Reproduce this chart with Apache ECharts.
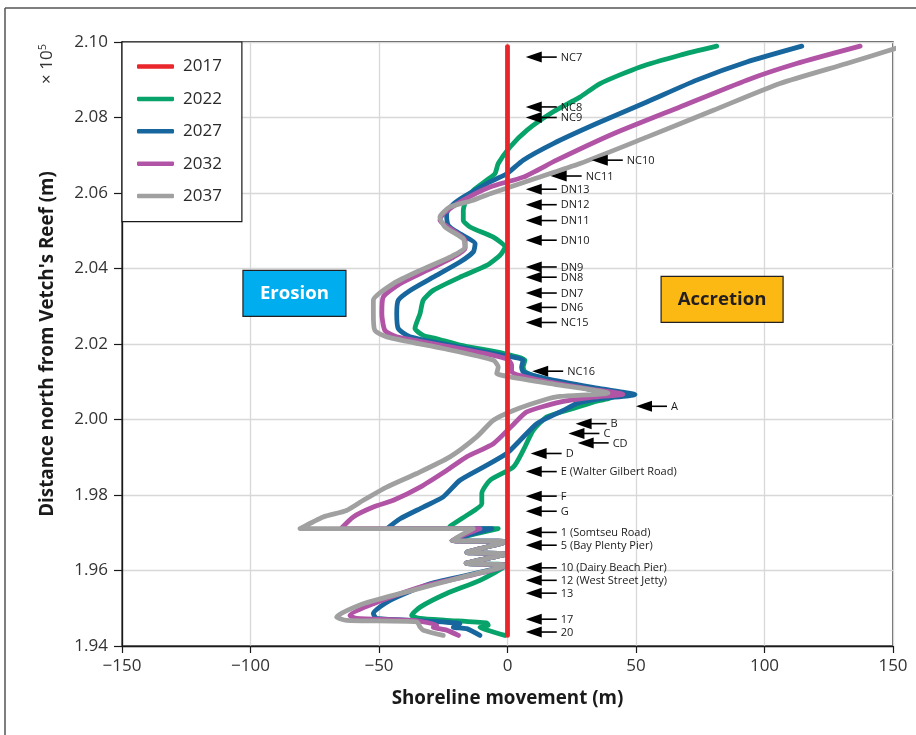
<!DOCTYPE html>
<html>
<head>
<meta charset="utf-8">
<script src="https://cdn.jsdelivr.net/npm/echarts@6/dist/echarts.min.js"></script>
<style>
html,body{margin:0;padding:0;background:#fff;}
#chart{width:916px;height:735px;}
</style>
</head>
<body>
<div id="chart"></div>
<script>
// ---- data (x: shoreline movement m, y: distance north ×10^5 m) ----
const years = ['2017', '2022', '2027', '2032', '2037'];
const xTicks = [-150, -100, -50, 0, 50, 100, 150];
const yTicks = [1.94, 1.96, 1.98, 2.00, 2.02, 2.04, 2.06, 2.08, 2.10];

const s2017 = [[0, 2.0988], [0, 1.9428]];

const s2022 = [
[81.4,2.0989],[67.1,2.0965],[51.6,2.0934],[36.0,2.0890],[28.2,2.0854],[17.8,2.0815],[7.5,2.0766],[1.0,2.0722],[-3.6,2.0678],[-4.9,2.0651],[-8.1,2.0634],[-13.3,2.0607],[-16.1,2.0581],[-17.2,2.0554],[-17.2,2.0528],[-14.6,2.0510],[-5.5,2.0483],[-1.0,2.0457],[-2.9,2.0435],[-8.1,2.0408],[-18.5,2.0377],[-28.9,2.0342],[-32.8,2.0316],[-34.0,2.0281],[-36.0,2.0241],[-32.8,2.0223],[-27.5,2.0214],[-18.5,2.0197],[-1.6,2.0175],[6.8,2.0157],[6.1,2.0139],[6.8,2.0126],[13.9,2.0108],[33.4,2.0077],[41.2,2.0060],[33.4,2.0046],[25.6,2.0029],[15.3,2.0007],[10.0,1.9971],[6.1,1.9918],[2.3,1.9874],[-6.8,1.9839],[-10.0,1.9804],[-10.0,1.9777],[-15.9,1.9746],[-22.4,1.9717],[-22.8,1.9711],[-3.6,1.9711],[-21.6,1.9680],[-0.5,1.9676],[-15.8,1.9648],[-0.5,1.9644],[-16.1,1.9619],[-0.5,1.9614],[-10.7,1.9574],[-23.7,1.9539],[-34.0,1.9503],[-37.3,1.9481],[-34.0,1.9473],[-23.7,1.9468],[-8.1,1.9461],[-7.5,1.9455],[-10.7,1.9450],[-5.5,1.9437],[-1.0,1.9428]
];

const s2027 = [
[114.5,2.0989],[93.1,2.0947],[73.6,2.0899],[54.2,2.0841],[34.7,2.0784],[17.8,2.0731],[6.1,2.0687],[-0.3,2.0651],[-8.1,2.0625],[-17.2,2.0589],[-21.6,2.0567],[-23.7,2.0545],[-23.0,2.0514],[-18.5,2.0492],[-12.6,2.0466],[-13.3,2.0444],[-18.5,2.0417],[-28.9,2.0377],[-37.9,2.0342],[-42.5,2.0316],[-43.1,2.0281],[-42.5,2.0241],[-37.9,2.0219],[-18.5,2.0192],[-1.6,2.0170],[6.1,2.0157],[5.5,2.0139],[6.1,2.0126],[15.3,2.0108],[36.0,2.0082],[49.6,2.0066],[36.0,2.0055],[26.9,2.0042],[21.7,2.0024],[11.4,1.9989],[4.9,1.9945],[-0.3,1.9910],[-9.4,1.9874],[-18.5,1.9839],[-25.0,1.9795],[-32.8,1.9768],[-41.8,1.9737],[-46.9,1.9711],[-6.1,1.9711],[-21.6,1.9680],[-0.5,1.9676],[-15.8,1.9648],[-0.5,1.9644],[-16.1,1.9619],[-0.5,1.9614],[-30.2,1.9565],[-45.7,1.9521],[-52.2,1.9486],[-50.9,1.9473],[-36.7,1.9468],[-18.5,1.9459],[-21.1,1.9450],[-15.9,1.9446],[-10.7,1.9428]
];

const s2032 = [
[137.2,2.0989],[112.5,2.0943],[93.1,2.0899],[67.1,2.0828],[41.2,2.0757],[19.1,2.0687],[6.1,2.0642],[-6.8,2.0616],[-17.2,2.0581],[-25.0,2.0545],[-26.3,2.0528],[-22.4,2.0506],[-16.5,2.0475],[-16.5,2.0453],[-21.1,2.0430],[-31.4,2.0395],[-41.8,2.0360],[-48.3,2.0325],[-48.9,2.0281],[-47.7,2.0236],[-43.1,2.0219],[-18.5,2.0188],[-0.3,2.0161],[1.6,2.0144],[1.6,2.0126],[10.0,2.0108],[30.8,2.0082],[44.9,2.0067],[33.4,2.0059],[20.4,2.0046],[7.5,2.0020],[2.3,1.9987],[-5.5,1.9936],[-15.9,1.9901],[-23.7,1.9865],[-34.0,1.9821],[-44.4,1.9786],[-52.2,1.9768],[-60.0,1.9742],[-64.8,1.9711],[-10.7,1.9711],[-21.6,1.9680],[-0.5,1.9676],[-15.8,1.9648],[-0.5,1.9644],[-16.1,1.9619],[-0.5,1.9614],[-34.0,1.9556],[-52.2,1.9512],[-61.3,1.9481],[-58.7,1.9473],[-36.7,1.9468],[-27.5,1.9455],[-28.9,1.9450],[-23.7,1.9442],[-19.1,1.9428]
];

const s2037 = [
[152.0,2.0985],[132.0,2.0943],[106.0,2.0890],[80.1,2.0819],[54.2,2.0748],[28.2,2.0678],[8.8,2.0634],[-6.8,2.0598],[-13.3,2.0581],[-22.4,2.0563],[-26.3,2.0536],[-24.3,2.0510],[-17.2,2.0479],[-16.5,2.0457],[-22.4,2.0430],[-34.0,2.0395],[-44.4,2.0360],[-52.2,2.0316],[-52.2,2.0281],[-51.6,2.0236],[-47.0,2.0219],[-25.0,2.0188],[-5.5,2.0157],[-3.6,2.0139],[-4.2,2.0122],[1.0,2.0113],[20.4,2.0091],[39.1,2.0070],[20.4,2.0061],[13.9,2.0051],[2.3,2.0024],[-5.5,1.9998],[-12.0,1.9954],[-22.4,1.9901],[-35.3,1.9857],[-47.0,1.9821],[-56.1,1.9786],[-62.6,1.9759],[-71.7,1.9742],[-80.7,1.9711],[-13.3,1.9711],[-21.6,1.9680],[-0.5,1.9676],[-15.8,1.9648],[-0.5,1.9644],[-16.1,1.9619],[-0.5,1.9614],[-17.2,1.9583],[-36.7,1.9548],[-56.1,1.9512],[-66.5,1.9477],[-62.6,1.9468],[-35.3,1.9464],[-34.0,1.9450],[-32.8,1.9442],[-25.0,1.9428]
];

// site markers (arrow tip position)
const markerLabels = ['NC7','NC8','NC9','NC10','NC11','DN13','DN12','DN11','DN10','DN9','DN8','DN7','DN6','NC15','NC16','A','B','C','CD','D','E (Walter Gilbert Road)','F','G','1 (Somtseu Road)','5 (Bay Plenty Pier)','10 (Dairy Beach Pier)','12 (West Street Jetty)','13','17','20'];
const markerX = [7.1,7.1,7.1,32.8,16.8,7.1,7.1,7.1,7.1,7.1,7.1,7.1,7.1,7.1,9.6,50.0,26.5,23.7,27.3,9.0,7.1,7.1,7.1,7.1,7.1,7.1,7.1,7.1,7.1,7.1];
const markerY = [2.0960,2.0828,2.0800,2.0687,2.0645,2.0610,2.0569,2.0527,2.0475,2.0404,2.0377,2.0335,2.0297,2.0257,2.0128,2.0035,1.9989,1.9963,1.9938,1.9910,1.9862,1.9797,1.9757,1.9701,1.9667,1.9607,1.9574,1.9540,1.9471,1.9437];

// zone boxes (centre)
const zoneLabels = ['Erosion', 'Accretion'];
const zoneX = [-82.9, 83.5];
const zoneY = [2.0334, 2.0318];

// ---- styles ----
const colors = {'2017': '#E8262B', '2022': '#07A36B', '2027': '#17679E', '2032': '#B254A6', '2037': '#A0A0A0'};
const seriesData = {'2017': s2017, '2022': s2022, '2027': s2027, '2032': s2032, '2037': s2037};
const zoneStyle = [
  {w: 103, h: 46, fill: '#00AEEF', text: '#FFFFFF'},
  {w: 122, h: 46, fill: '#FDB913', text: '#231F20'}
];
const FONT = '"Open Sans", "Noto Sans", sans-serif';

const chart = echarts.init(document.getElementById('chart'), null, {renderer: 'canvas'});

const lineSeries = years.map(y => ({
  name: y,
  type: 'line',
  data: seriesData[y],
  showSymbol: false,
  symbol: 'none',
  smooth: 0.2,
  z: y === '2017' ? 5 : 3,
  lineStyle: {color: colors[y], width: 4.8, cap: 'round', join: 'round'},
  itemStyle: {color: colors[y]},
  emphasis: {disabled: true},
  animation: false
}));

const markerSeries = {
  type: 'custom',
  name: 'markers',
  data: markerX.map((x, i) => [x, markerY[i], i]),
  z: 10,
  silent: true,
  clip: false,
  animation: false,
  renderItem: function (params, api) {
    const p = api.coord([api.value(0), api.value(1)]);
    const i = api.value(2);
    return {
      type: 'group',
      children: [
        {type: 'polygon', shape: {points: [[p[0], p[1]], [p[0] + 16, p[1] - 5.5], [p[0] + 16, p[1] + 5.5]]}, style: {fill: '#000'}},
        {type: 'line', shape: {x1: p[0] + 14, y1: p[1], x2: p[0] + 31, y2: p[1]}, style: {stroke: '#000', lineWidth: 1.6}},
        {type: 'text', x: p[0] + 35, y: p[1] + 0.5, style: {text: markerLabels[i], fill: '#1a1a1a', fontSize: 11, fontFamily: FONT, verticalAlign: 'middle', align: 'left'}}
      ]
    };
  }
};

const zoneSeries = {
  type: 'custom',
  name: 'zones',
  data: zoneX.map((x, i) => [x, zoneY[i], i]),
  z: 9,
  silent: true,
  animation: false,
  renderItem: function (params, api) {
    const p = api.coord([api.value(0), api.value(1)]);
    const st = zoneStyle[api.value(2)];
    return {
      type: 'group',
      children: [
        {type: 'rect', shape: {x: p[0] - st.w / 2, y: p[1] - st.h / 2, width: st.w, height: st.h}, style: {fill: st.fill, stroke: '#231F20', lineWidth: 1.2}},
        {type: 'text', x: p[0], y: p[1], style: {text: zoneLabels[api.value(2)], fill: st.text, fontSize: 18.6, fontWeight: 'bold', fontFamily: FONT, align: 'center', verticalAlign: 'middle'}}
      ]
    };
  }
};

const option = {
  backgroundColor: '#fff',
  animation: false,
  grid: {left: 122, top: 42, right: 23, bottom: 89, show: true, borderColor: '#1a1a1a', borderWidth: 1.3, backgroundColor: 'transparent'},
  legend: {
    data: years,
    orient: 'vertical',
    left: 122,
    top: 42,
    padding: [16, 20, 17, 15],
    itemGap: 15.4,
    itemWidth: 37,
    itemHeight: 4.5,
    icon: 'roundRect',
    backgroundColor: '#fff',
    borderColor: '#1a1a1a',
    borderWidth: 1.2,
    textStyle: {fontSize: 17, color: '#2a2a2a', fontFamily: FONT, padding: [0, 0, 0, 4]},
    selectedMode: false,
    z: 20
  },
  xAxis: {
    type: 'value',
    min: -150, max: 150, interval: 50,
    name: 'Shoreline movement (m)',
    nameLocation: 'middle',
    nameGap: 43,
    nameTextStyle: {fontSize: 18.8, fontWeight: 'bold', color: '#1a1a1a', fontFamily: FONT},
    axisLine: {show: true, onZero: false, lineStyle: {color: '#1a1a1a', width: 1.3}},
    axisTick: {show: true, inside: false, length: 7, lineStyle: {color: '#1a1a1a', width: 1.2}},
    axisLabel: {fontSize: 17, color: '#333', fontFamily: FONT, margin: 12,
      formatter: v => (v < 0 ? '\u2212' + Math.abs(v) : String(v))},
    splitLine: {show: true, lineStyle: {color: '#d8d8d8', width: 1.3}}
  },
  yAxis: {
    type: 'value',
    min: 1.94, max: 2.10, interval: 0.02,
    name: "Distance north from Vetch's Reef (m)",
    nameLocation: 'middle',
    nameRotate: 90,
    nameGap: 65,
    nameTextStyle: {fontSize: 18.8, fontWeight: 'bold', color: '#1a1a1a', fontFamily: FONT},
    axisLine: {show: true, onZero: false, lineStyle: {color: '#1a1a1a', width: 1.3}},
    axisTick: {show: true, inside: false, length: 8, lineStyle: {color: '#1a1a1a', width: 1.2}},
    axisLabel: {fontSize: 17, color: '#333', fontFamily: FONT, margin: 14,
      formatter: v => v.toFixed(2)},
    splitLine: {show: true, lineStyle: {color: '#d8d8d8', width: 1.3}}
  },
  graphic: [
    {type: 'line', shape: {x1: 5, y1: 8, x2: 916, y2: 8}, style: {stroke: '#555', lineWidth: 1.5}, z: 100},
    {type: 'line', shape: {x1: 5, y1: 8, x2: 5, y2: 735}, style: {stroke: '#555', lineWidth: 1.5}, z: 100},
    {type: 'text', x: 47, y: 64, rotation: Math.PI / 2,
      style: {text: '{a|\u00d7 10}{b|5}', fill: '#333', align: 'center', verticalAlign: 'middle',
        rich: {a: {fontSize: 17, fill: '#333', fontFamily: FONT}, b: {fontSize: 11, fill: '#333', fontFamily: FONT, padding: [0, 0, 9, 0]}}}, z: 100}
  ],
  series: lineSeries.concat([zoneSeries, markerSeries])
};

chart.setOption(option);
</script>
</body>
</html>
